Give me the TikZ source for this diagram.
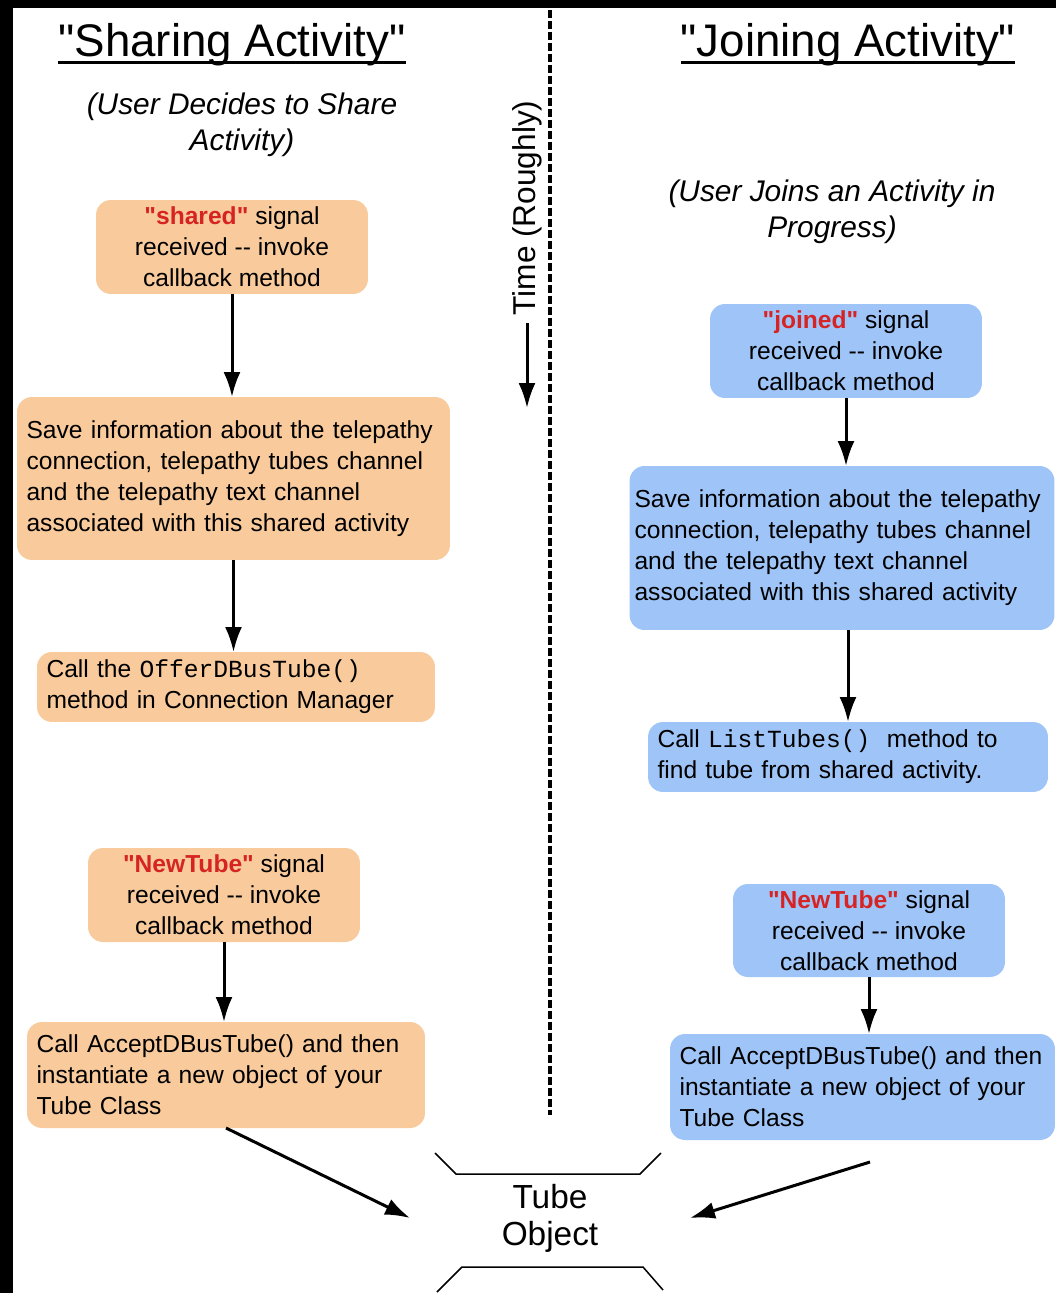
\documentclass[tikz,border=0pt]{standalone}
\usepackage{fontspec}
\setmainfont{Liberation Sans}[Ligatures=TeXOff]
\setmonofont{Liberation Mono}
\usetikzlibrary{arrows.meta}
\definecolor{sharefill}{RGB}{249,203,156}
\definecolor{joinfill}{RGB}{159,197,248}
\definecolor{sigred}{RGB}{214,36,36}
\newcommand{\signame}[1]{\textcolor{sigred}{\textbf{"#1"}}}
\begin{document}
\begin{tikzpicture}[x=0.02cm,y=-0.02cm,
   every node/.style={inner sep=0pt,outer sep=0pt},
   shbox/.style={fill=sharefill,rounded corners=0.3cm,inner xsep=0.19cm,font=\fontsize{14}{17.6}\selectfont},
   jnbox/.style={shbox,fill=joinfill},
   headline/.style={font=\fontsize{26}{31}\selectfont},
   subnote/.style={align=center,font=\fontsize{17}{20.4}\selectfont\itshape},
   flow/.style={line width=0.06cm,-{Latex[length=0.5cm,width=0.34cm]}},
   tubeline/.style={line width=0.03cm}]
   \fill [white] (0,0) rectangle (1056,1293);
   \useasboundingbox (0,0) rectangle (1056,1293);
   \fill [black] (0,0) rectangle (13,1293);
   \fill [black] (0,0) rectangle (1056,8);
   % titles
   \node [headline,anchor=base] (shtitle) at (232,57) {"Sharing Activity"};
   \node [headline,anchor=base] (jntitle) at (848,57) {"Joining Activity"};
   \draw [line width=0.06cm] ([yshift=-0.12cm]shtitle.base west) -- ([yshift=-0.12cm]shtitle.base east);
   \draw [line width=0.06cm] ([yshift=-0.12cm]jntitle.base west) -- ([yshift=-0.12cm]jntitle.base east);
   \node [subnote] (shnote) at (242,125) {(User Decides to Share\\Activity)};
   \node [subnote] (jnnote) at (832,212) {(User Joins an Activity in\\Progress)};
   % time line
   \draw [line width=0.07cm,dash pattern=on 0.16cm off 0.06cm] (550,10) -- (550,1115);
   \node [rotate=90,font=\fontsize{18}{21}\selectfont] (timelbl) at (527,208) {Time (Roughly)};
   \coordinate (timeend) at (527,408);
   \draw [flow] ([yshift=-0.16cm]timelbl.west) -- (timeend);
   % sharing side
   \node [shbox,align=center,minimum width=5.44cm,minimum height=1.88cm] (sh1) at (232,247)
      {\signame{shared} signal\\received -{}- invoke\\callback method};
   \node [shbox,align=left,text width=8.28cm,minimum height=3.26cm] (sh2) at (233.5,478.5)
      {Save information about the telepathy\\connection, telepathy tubes channel\\and the telepathy text channel\\associated with this shared activity};
   \node [shbox,align=left,text width=7.58cm,minimum height=1.4cm] (sh3) at (236,687)
      {Call the \texttt{OfferDBusTube()}\\method in Connection Manager};
   \node [shbox,align=center,minimum width=5.44cm,minimum height=1.88cm] (sh4) at (224,895)
      {\signame{NewTube} signal\\received -{}- invoke\\callback method};
   \node [shbox,align=left,text width=7.58cm,minimum height=2.12cm] (sh5) at (226,1075)
      {Call AcceptDBusTube() and then\\instantiate a new object of your\\Tube Class};
   \draw [flow] (sh1.south) -- (sh1.south |- sh2.north);
   \draw [flow] (sh2.south) -- (sh2.south |- sh3.north);
   \draw [flow] (sh4.south) -- (sh4.south |- sh5.north);
   % joining side
   \node [jnbox,align=center,minimum width=5.44cm,minimum height=1.88cm] (jn1) at (846,351)
      {\signame{joined} signal\\received -{}- invoke\\callback method};
   \node [jnbox,align=left,inner xsep=0.1cm,text width=8.3cm,minimum height=3.28cm] (jn2) at (842,548)
      {Save information about the telepathy\\connection, telepathy tubes channel\\and the telepathy text channel\\associated with this shared activity};
   \node [jnbox,align=left,text width=7.62cm,minimum height=1.4cm] (jn3) at (848,757)
      {Call \texttt{ListTubes()}\ \ method to\\find tube from shared activity.};
   \node [jnbox,align=center,minimum width=5.44cm,minimum height=1.86cm] (jn4) at (869,930.5)
      {\signame{NewTube} signal\\received -{}- invoke\\callback method};
   \node [jnbox,align=left,text width=7.32cm,minimum height=2.12cm] (jn5) at (862.5,1087)
      {Call AcceptDBusTube() and then\\instantiate a new object of your\\Tube Class};
   \draw [flow] (jn1.south) -- (jn1.south |- jn2.north);
   \draw [flow] (jn3.north |- jn2.south) -- (jn3.north);
   \draw [flow] (jn4.south) -- (jn4.south |- jn5.north);
   % tube object
   \node [align=center,minimum width=5.6cm,font=\fontsize{19}{21}\selectfont] (tube) at (550,1218) {Tube\\Object};
   \draw [tubeline] (435,1153) -- (456,1174) -- (640,1174) -- (661,1153);
   \draw [tubeline] (437,1292) -- (462,1267) -- (643,1267) -- (663,1290);
   \coordinate (jnout) at (870,1162);
   \draw [flow] (sh5.south) -- (tube.west);
   \draw [flow] (jnout) -- (tube.east);
\end{tikzpicture}
\end{document}
